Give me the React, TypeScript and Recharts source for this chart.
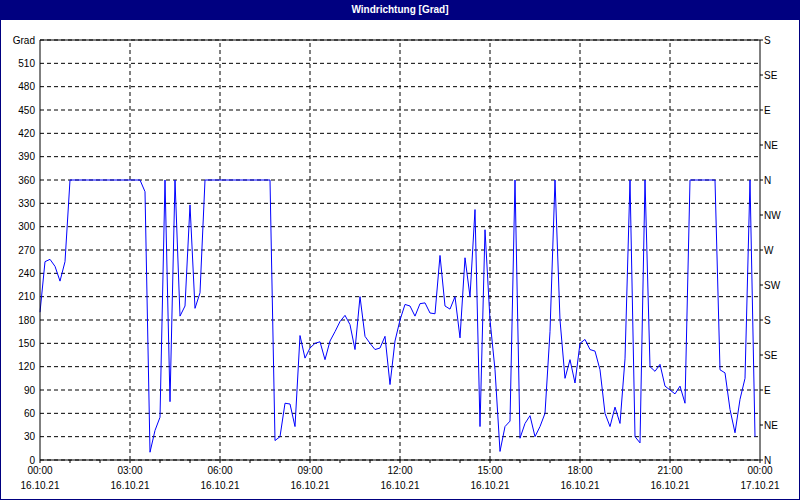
import {
  LineChart, Line, XAxis, YAxis, CartesianGrid, ReferenceLine
} from 'recharts';

// wind direction in degrees, one value every 10 minutes (6 per hour)
const windDir = [
  190, 255, 258, 249, 230, 255, // 00
  360, 360, 360, 360, 360, 360, // 01
  360, 360, 360, 360, 360, 360, // 02
  360, 360, 360, 345, 10, 38,   // 03
  55, 360, 75, 360, 185, 198,   // 04
  328, 195, 215, 360, 360, 360, // 05
  360, 360, 360, 360, 360, 360, // 06
  360, 360, 360, 360, 360, 25,  // 07
  30, 73, 72, 43, 160, 131,     // 08
  144, 150, 152, 129, 153, 165, // 09
  178, 186, 174, 142, 210, 159, // 10
  150, 142, 144, 159, 97, 153,  // 11
  180, 200, 198, 185, 201, 202, // 12
  189, 188, 263, 198, 194, 210, // 13
  157, 260, 210, 322, 43, 296,  // 14
  180, 116, 11, 43, 50, 360,    // 15
  28, 47, 57, 30, 43, 60,       // 16
  165, 360, 180, 105, 129, 99,  // 17
  150, 155, 142, 140, 116, 60,  // 18
  43, 68, 47, 130, 360, 30,     // 19
  22, 360, 120, 114, 123, 95,   // 20
  90, 85, 95, 73, 360, 360,     // 21
  360, 360, 360, 360, 116, 112, // 22
  65, 35, 78, 105, 360, 30,     // 23
];

const hourTicks = [0, 60, 120, 180, 240, 300, 360, 420, 480, 540, 600, 660, 720, 780, 840, 900, 960, 1020, 1080, 1140, 1200, 1260, 1320, 1380, 1440];
const labelTicks = [0, 180, 360, 540, 720, 900, 1080, 1260, 1440];
const timeLabels = ['00:00', '03:00', '06:00', '09:00', '12:00', '15:00', '18:00', '21:00', '00:00'];
const dateLabels = ['16.10.21', '16.10.21', '16.10.21', '16.10.21', '16.10.21', '16.10.21', '16.10.21', '16.10.21', '17.10.21'];

const gradTicks = [0, 30, 60, 90, 120, 150, 180, 210, 240, 270, 300, 330, 360, 390, 420, 450, 480, 510, 540];
const compassTicks = [0, 45, 90, 135, 180, 225, 270, 315, 360, 405, 450, 495, 540];
const compassLabels = ['N', 'NE', 'E', 'SE', 'S', 'SW', 'W', 'NW', 'N', 'NE', 'E', 'SE', 'S'];

const data = windDir.map((d, i) => ({ t: i * 10, dir: d }));

const font = 'Liberation Sans, Arial, sans-serif';

const TimeTick = (props: any) => {
  const { x, y, payload } = props;
  const idx = labelTicks.indexOf(payload.value);
  if (idx < 0) return null;
  return (
    <g>
      <text x={x} y={y + 10} textAnchor="middle" fontSize={10} fontFamily={font} fill="#000">{timeLabels[idx]}</text>
      <text x={x} y={y + 25} textAnchor="middle" fontSize={10} fontFamily={font} fill="#000">{dateLabels[idx]}</text>
    </g>
  );
};

const CompassTick = (props: any) => {
  const { x, y, payload } = props;
  const idx = compassTicks.indexOf(payload.value);
  return (
    <text x={x} y={y} dy="0.355em" textAnchor="start" fontSize={10} fontFamily={font} fill="#000">
      {compassLabels[idx]}
    </text>
  );
};

const App = () => {
  return (
    <div style={{ position: 'absolute', left: 0, top: 0, width: 800, height: 500, background: '#fff' }}>
      <LineChart width={800} height={500} data={data} margin={{ top: 40, right: 0, bottom: 0, left: 0 }}>
        <CartesianGrid yAxisId="left" vertical={false} stroke="#000" strokeDasharray="4 3" />
        <XAxis
          dataKey="t" type="number" domain={[0, 1440]} ticks={hourTicks} interval={0}
          height={40} tickSize={3} tickMargin={1} stroke="#000" tick={<TimeTick />}
        />
        <YAxis
          yAxisId="left" domain={[0, 540]} ticks={gradTicks} interval={0} width={40}
          tickLine={false} tickSize={3} tickMargin={2} stroke="#000"
          tick={{ fill: '#000', fontSize: 10, fontFamily: font }}
          tickFormatter={(v: number) => (v === 540 ? 'Grad' : String(v))}
        />
        <YAxis
          yAxisId="right" orientation="right" type="number" domain={[0, 540]} ticks={compassTicks}
          interval={0} width={40} allowDataOverflow
          tickSize={3} tickMargin={1} stroke="#000" tick={<CompassTick />}
        />
        {labelTicks.slice(1, -1).map((t) => (
          <ReferenceLine key={t} x={t} yAxisId="left" stroke="#000" strokeDasharray="4 3" />
        ))}
        <ReferenceLine y={540} yAxisId="left" stroke="#000" />
        {/* invisible copy so the compass axis gets drawn */}
        <Line
          yAxisId="right" type="linear" dataKey="dir" stroke="none"
          dot={false} activeDot={false} isAnimationActive={false} legendType="none"
        />
        <Line
          yAxisId="left" type="linear" dataKey="dir" stroke="#0000ff" strokeWidth={1}
          dot={false} isAnimationActive={false}
        />
      </LineChart>
      <div style={{
        position: 'absolute', left: 0, top: 0, width: 800, height: 20, background: '#000080',
        color: '#fff', fontFamily: font, fontWeight: 'bold', fontSize: 10,
        lineHeight: '20px', textAlign: 'center'
      }}>
        Windrichtung [Grad]
      </div>
      <div style={{
        position: 'absolute', left: 0, top: 0, width: 800, height: 500, boxSizing: 'border-box',
        border: '1px solid #000080', pointerEvents: 'none'
      }} />
    </div>
  );
};

export default App;
